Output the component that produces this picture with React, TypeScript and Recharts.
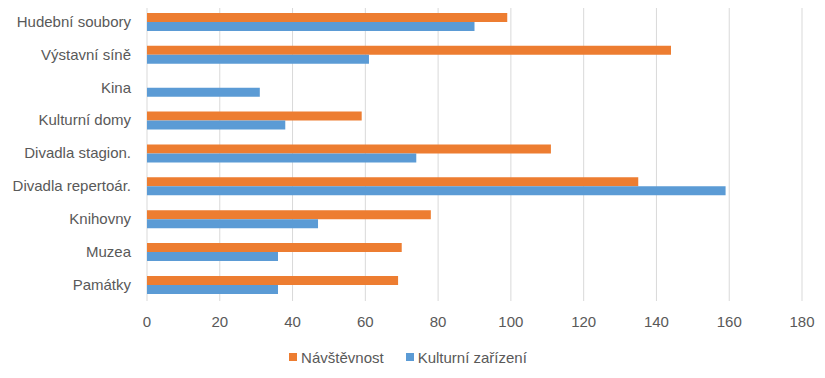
import { BarChart, Bar, XAxis, YAxis, CartesianGrid, Legend } from 'recharts';

const categories = [
  'Hudební soubory',
  'Výstavní síně',
  'Kina',
  'Kulturní domy',
  'Divadla stagion.',
  'Divadla repertoár.',
  'Knihovny',
  'Muzea',
  'Památky',
];
const navstevnost = [99, 144, 0, 59, 111, 135, 78, 70, 69];
const zarizeni = [90, 61, 31, 38, 74, 159, 47, 36, 36];
const xTicks = [0, 20, 40, 60, 80, 100, 120, 140, 160, 180];

const series = [
  { key: 'navstevnost', name: 'Návštěvnost', color: '#ED7D31' },
  { key: 'zarizeni', name: 'Kulturní zařízení', color: '#5B9BD5' },
];

const data = categories.map((name, i) => ({
  name,
  navstevnost: navstevnost[i],
  zarizeni: zarizeni[i],
}));

const FONT = '"Liberation Sans", Arial, sans-serif';
const TEXT = '#595959';

// keep the legend in the series order (recharts sorts it otherwise)
const LegendBox = () => (
  <div
    style={{
      display: 'flex',
      justifyContent: 'center',
      alignItems: 'center',
      height: 20,
      paddingLeft: 14,
      fontFamily: FONT,
      fontSize: 15,
      color: TEXT,
    }}
  >
    {series.map((s) => (
      <div key={s.key} style={{ display: 'flex', alignItems: 'center', margin: '0 11px' }}>
        <span style={{ width: 8, height: 8, background: s.color, marginRight: 4 }} />
        <span>{s.name}</span>
      </div>
    ))}
  </div>
);

export default function App() {
  return (
    <div style={{ margin: -8, width: 825, height: 378, background: '#fff' }}>
      <BarChart
        width={825}
        height={378}
        data={data}
        layout="vertical"
        margin={{ top: 5, right: 23, bottom: 11, left: 0 }}
        barCategoryGap="24%"
        barGap={0}
      >
        <CartesianGrid horizontal={false} stroke="#d9d9d9" />
        <XAxis
          type="number"
          domain={[0, 180]}
          ticks={xTicks}
          axisLine={false}
          tickLine={false}
          tickSize={0}
          tickMargin={15}
          height={46}
          tick={{ fill: TEXT, fontSize: 15, fontFamily: FONT }}
        />
        <YAxis
          type="category"
          dataKey="name"
          width={147}
          axisLine={false}
          tickLine={false}
          tickSize={0}
          tickMargin={16}
          tick={{ fill: TEXT, fontSize: 15, fontFamily: FONT }}
        />
        <Legend verticalAlign="bottom" height={20} content={<LegendBox />} />
        {series.map((s) => (
          <Bar key={s.key} dataKey={s.key} name={s.name} fill={s.color} isAnimationActive={false} />
        ))}
      </BarChart>
    </div>
  );
}
